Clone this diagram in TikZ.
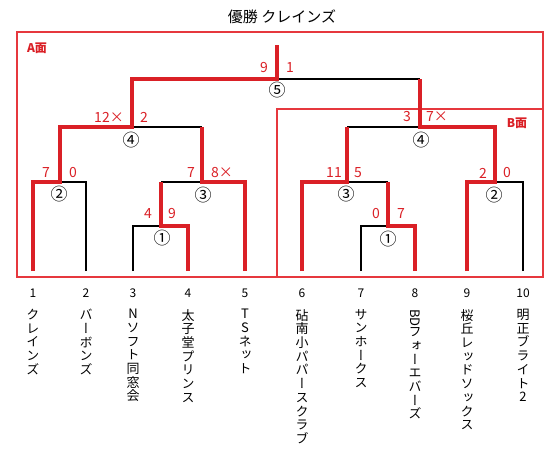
\documentclass[tikz,border=0pt]{standalone}
\usepackage{fontspec}
\usepackage{graphicx}
\setmainfont{Noto Sans CJK JP}
\newfontfamily\vjp[RawFeature=+vert]{Noto Sans CJK JP}
\definecolor{winred}{RGB}{218,32,38}
\definecolor{boxred}{RGB}{230,56,62}
\tikzset{
  win/.style={draw=winred,line width=4pt},
  lose/.style={draw=black,line width=2pt},
  score/.style={text=winred,font=\fontsize{14}{14}\selectfont,inner sep=0pt},
  game/.style={font=\fontsize{17}{17}\selectfont,inner sep=0pt},
  seed/.style={font=\fontsize{12}{12}\selectfont,inner sep=0pt},
  team/.style={font=\vjp\fontsize{13}{13.7}\selectfont,align=center,anchor=north,inner sep=0pt},
  side/.style={text=winred,font=\bfseries\fontsize{12}{12}\selectfont,inner sep=0pt},
  frame/.style={draw=boxred,line width=1.2pt}
}
\begin{document}
\begin{tikzpicture}[x=1pt,y=-1pt]
  \useasboundingbox (0,0) rectangle (560,459);
  \node[font=\fontsize{15}{15}\selectfont] (title) at (282,17) {優勝 クレインズ};
  % A/B sides
  \draw[frame] (17,32) rectangle (543,277);
  \draw[frame] (277,109) rectangle (543,277);
  \node[side] (sideA) at (37,48) {A面};
  \node[side] (sideB) at (517,123) {B面};
  % teams
  \foreach \i/\x in {1/33,2/86,3/133,4/188,5/245,6/302,7/361,8/415,9/467,10/523} {
    \coordinate (t\i) at (\x,271);
    \node[seed] (n\i) at (\x,293) {\i};
  }
  \node[team] (name1) at (33,309) {ク\\レ\\イ\\ン\\ズ};
  \node[team] (name2) at (86,309) {バ\\ー\\ボ\\ン\\ズ};
  \node[team] (name3) at (133,309) {N\\ソ\\フ\\ト\\同\\窓\\会};
  \node[team] (name4) at (188,309) {太\\子\\堂\\プ\\リ\\ン\\ス};
  \node[team] (name5) at (245,309) {T\\S\\ネ\\ッ\\ト};
  \node[team] (name6) at (302,309) {砧\\南\\小\\パ\\パ\\ー\\ス\\ク\\ラ\\ブ};
  \node[team] (name7) at (361,309) {サ\\ン\\ホ\\ー\\ク\\ス};
  \node[team] (name8) at (415,309) {\rotatebox{-90}{BD}\\フ\\ォ\\ー\\エ\\バ\\ー\\ズ};
  \node[team] (name9) at (467,309) {桜\\丘\\レ\\ッ\\ド\\ソ\\ッ\\ク\\ス};
  \node[team] (name10) at (523,309) {明\\正\\ブ\\ラ\\イ\\ト\\2};
  % games
  \coordinate (L1) at (161,226); \coordinate (L2) at (60,182);
  \coordinate (L3) at (202,182); \coordinate (L3a) at (161,182);
  \coordinate (L4) at (132,127); \coordinate (L4b) at (202,127);
  \coordinate (R1) at (388,226); \coordinate (R2) at (495,182);
  \coordinate (R3) at (347,182); \coordinate (R3b) at (388,182);
  \coordinate (R4) at (420,127); \coordinate (R4a) at (347,127);
  \coordinate (F5) at (277,79); \coordinate (F5b) at (420,79);
  \coordinate (top) at (277,45);
  \draw[lose] (t2) |- (L2);
  \draw[lose] (t3) |- (L1);
  \draw[lose] (L3a) -- (L3);
  \draw[lose] (L4b) -- (L4);
  \draw[lose] (F5b) -- (F5);
  \draw[lose] (R4a) -- (R4);
  \draw[lose] (R3b) -- (R3);
  \draw[lose] (t7) |- (R1);
  \draw[lose] (t10) |- (R2);
  \draw[win] (t1) |- (L2) |- (L4) |- (F5) -- (top);
  \draw[win] (t4) |- (L1) -- (L3a);
  \draw[win] (t5) |- (L3) -- (L4b);
  \draw[win] (t6) |- (R3) -- (R4a);
  \draw[win] (t8) |- (R1) -- (R3b);
  \draw[win] (t9) |- (R2) |- (R4) -- (F5b);
  % game numbers
  \node[game] (gL1) at (162,238) {①}; \node[game] (gL2) at (59,194) {②};
  \node[game] (gL3) at (203,195) {③}; \node[game] (gL4) at (131,140) {④};
  \node[game] (gF5) at (277,90) {⑤};
  \node[game] (gR1) at (388,239) {①}; \node[game] (gR2) at (494,195) {②};
  \node[game] (gR3) at (346,194) {③}; \node[game] (gR4) at (421,140) {④};
  % scores
  \node[score] (sL2a) at (46,173) {7}; \node[score] (sL2b) at (73,173) {0};
  \node[score] (sL1a) at (148,214) {4}; \node[score] (sL1b) at (172,214) {9};
  \node[score] (sL3a) at (191,173) {7}; \node[score] (sL3b) at (222,173) {8×};
  \node[score] (sL4a) at (109,117) {12×}; \node[score] (sL4b) at (144,117) {2};
  \node[score] (sF5a) at (264,68) {9}; \node[score] (sF5b) at (290,68) {1};
  \node[score] (sR4a) at (407,117) {3}; \node[score] (sR4b) at (437,117) {7×};
  \node[score] (sR3a) at (334,173) {11}; \node[score] (sR3b) at (358,173) {5};
  \node[score] (sR1a) at (376,214) {0}; \node[score] (sR1b) at (401,214) {7};
  \node[score] (sR2a) at (483,173) {2}; \node[score] (sR2b) at (507,173) {0};
\end{tikzpicture}
\end{document}
